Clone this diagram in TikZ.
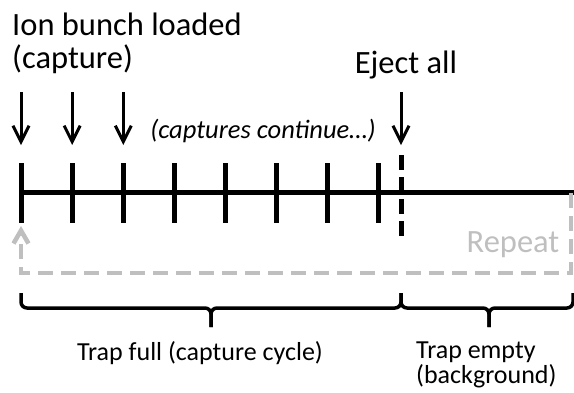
\documentclass[tikz,border=0pt]{standalone}
\usepackage{fontspec}
\setmainfont{Carlito}
\usetikzlibrary{arrows.meta}
\definecolor{repeatgray}{HTML}{BFBFBF}
\tikzset{
  bigtext/.style={inner sep=0pt, font=\fontsize{32.5}{38}\selectfont},
  smalltext/.style={inner sep=0pt, font=\fontsize{26}{22.5}\selectfont},
  timeline/.style={line width=5pt},
  tickmark/.style={line width=5pt},
  ejectline/.style={line width=5pt, dash pattern=on 15pt off 7pt},
  droparrow/.style={line width=3pt, -{Straight Barb[length=16pt,width=16pt]}},
  repeatpath/.style={repeatgray, line width=4.5pt, dash pattern=on 15pt off 8pt,
    -{Straight Barb[length=13pt,width=15pt]}},
  bracket/.style={line width=3.5pt, rounded corners=6pt},
}
\begin{document}
\begin{tikzpicture}[x=1pt,y=-1pt]
\useasboundingbox (0,0) rectangle (574,392);

% labels above the time line
\node[bigtext, anchor=base west] (loaded) at (12,35) {Ion bunch loaded};
\node[bigtext, anchor=base west] (capture) at (12,68) {(capture)};
\node[bigtext, anchor=base] (eject) at (406,73) {Eject all};
\node[inner sep=0pt, anchor=base, font=\fontsize{26.5}{31}\selectfont\itshape] (cont) at (263,138) {(captures continue…)};

% time line with capture ticks
\coordinate (start) at (21,192);
\coordinate (end) at (574,192);
\draw[timeline] (start) -- (end);
\foreach \i in {0,...,7} {
  \coordinate (tt\i) at ({21+51.14*\i},163);
  \coordinate (tb\i) at ({21+51.14*\i},223);
  \draw[tickmark] (tt\i) -- (tb\i);
}

% ejection marker
\coordinate (ejtop) at (401,155);
\coordinate (ejbot) at (401,237);
\draw[ejectline] (ejtop) -- (ejbot);

% incoming bunches and ejection
\foreach \i in {0,1,2} {
  \coordinate (as\i) at ({21+51.14*\i},92);
  \coordinate (ae\i) at ({21+51.14*\i},145);
  \draw[droparrow] (as\i) -- (ae\i);
}
\coordinate (es) at (401,92);
\coordinate (ee) at (401,145);
\draw[droparrow] (es) -- (ee);

% repeat loop
\coordinate (r1) at (571,193);
\coordinate (r2) at (571,273);
\coordinate (r3) at (21,273);
\coordinate (r4) at (21,226);
\draw[repeatpath] (r1) -- (r2) -- (r3) -- (r4);
\node[bigtext, anchor=base, text=repeatgray] (repeat) at (513,252) {Repeat};

% phase brackets
\draw[bracket] (21,293) -- (21,308) -- (211,308) -- (211,327);
\draw[bracket] (401,293) -- (401,308) -- (211,308) -- (211,327);
\draw[bracket] (401,293) -- (401,308) -- (489,308) -- (489,327);
\draw[bracket] (573,293) -- (573,308) -- (489,308) -- (489,327);

\node[smalltext, anchor=base] (full) at (200,360) {Trap full (capture cycle)};
\node[smalltext, anchor=base west, align=left] (empty) at (416,383) {Trap empty\\(background)};
\end{tikzpicture}
\end{document}
